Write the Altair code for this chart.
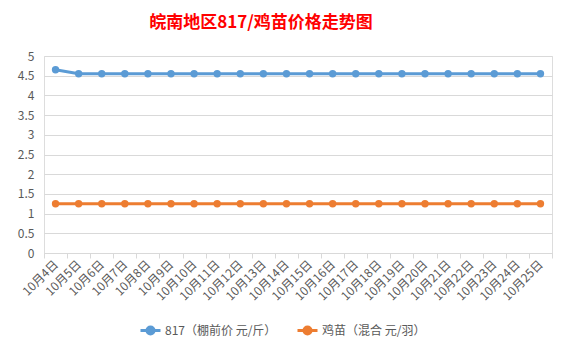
import altair as alt
import pandas as pd

dates = [f"10月{d}日" for d in range(4, 26)]
s1_name = "817（棚前价 元/斤）"
s2_name = "鸡苗（混合 元/羽）"
s1_values = [4.65] + [4.55] * 21
s2_values = [1.25] * 22

rows = []
for i, d in enumerate(dates):
    rows.append({"date": d, "series": s1_name, "value": s1_values[i], "order": i})
    rows.append({"date": d, "series": s2_name, "value": s2_values[i], "order": i})
df = pd.DataFrame(rows)

font = "Noto Sans CJK SC"

chart = alt.Chart(df).mark_line(
    strokeWidth=3,
    point=alt.OverlayMarkDef(filled=True, size=55),
).encode(
    x=alt.X("date:N", sort=dates, title=None,
            scale=alt.Scale(paddingInner=0, paddingOuter=0),
            axis=alt.Axis(labelAngle=-45, labelAlign="right", labelBaseline="middle",
                          labelFontSize=12, labelColor="#595959", labelFont=font,
                          tickBand="extent", domainColor="#d9d9d9", tickColor="#d9d9d9",
                          tickSize=5, labelPadding=4, grid=False)),
    y=alt.Y("value:Q", title=None,
            scale=alt.Scale(domain=[0, 5]),
            axis=alt.Axis(values=[0, 0.5, 1, 1.5, 2, 2.5, 3, 3.5, 4, 4.5, 5],
                          labelFontSize=12, labelColor="#595959", labelFont=font,
                          domain=False, ticks=False, gridColor="#d9d9d9",
                          labelPadding=10, labelExpr="datum.value")),
    color=alt.Color("series:N", sort=[s1_name, s2_name], title=None,
                    scale=alt.Scale(domain=[s1_name, s2_name], range=["#5b9bd5", "#ed7d31"]),
                    legend=alt.Legend(orient="none", direction="horizontal",
                                      legendX=95, legendY=263,
                                      labelFont=font, labelFontSize=12, labelColor="#595959",
                                      symbolType="M-1,0L1,0M-0.35,0A0.35,0.35 0 1,0 0.35,0A0.35,0.35 0 1,0 -0.35,0",
                                      symbolSize=400, symbolStrokeWidth=3,
                                      columnPadding=14, labelOffset=3)),
    order="order:Q",
).properties(
    width=508, height=197,
    title=alt.TitleParams("皖南地区817/鸡苗价格走势图", color="#ff0000", fontSize=17,
                          font=font, fontWeight="bold", offset=18, dx=-37),
    padding={"left": 9, "top": 6, "right": 5, "bottom": 5},
).configure_view(stroke=None).configure(background="white")

chart.save("out.html", embed_options={"renderer": "svg", "actions": False})
